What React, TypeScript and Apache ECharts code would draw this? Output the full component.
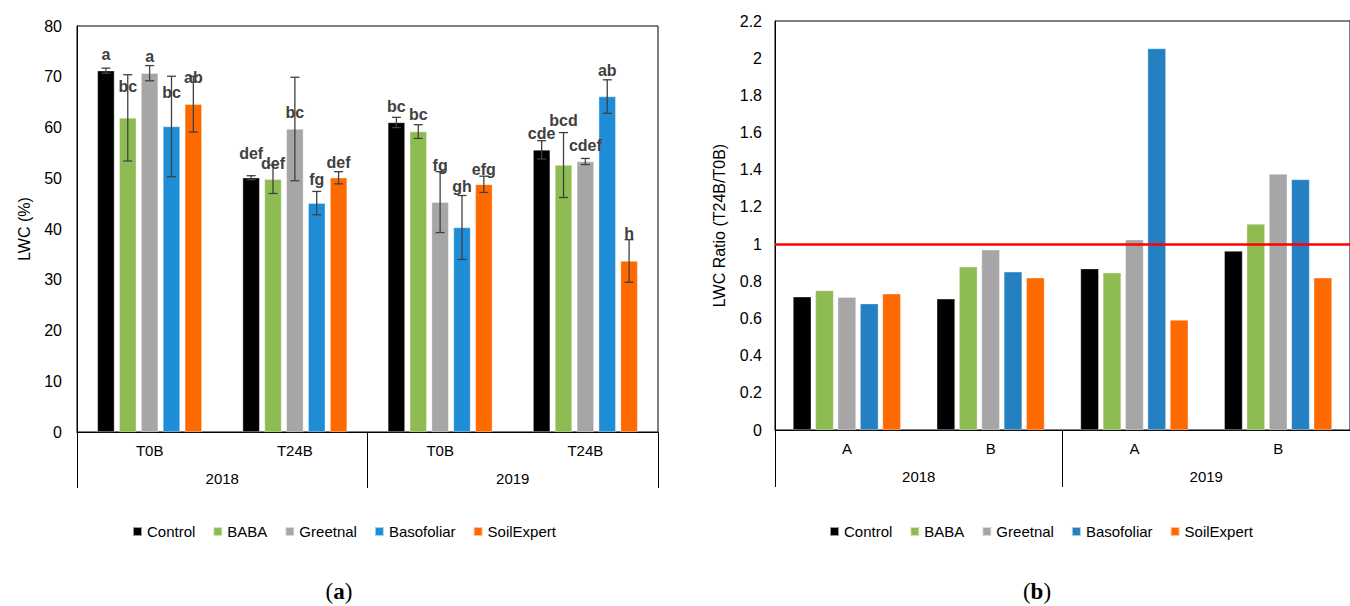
import React, { useEffect, useRef } from "react";
import * as echarts from "echarts";

// ---------- data ----------
const treatments = ["Control", "BABA", "Greetnal", "Basofoliar", "SoilExpert"];

// panel (a): LWC (%)
const samplingA = ["T0B", "T24B", "T0B", "T24B"];
const yearsA = ["2018", "2019"];
const lwcControl = [71.2, 50.1, 61.0, 55.6];
const lwcBABA = [61.9, 49.8, 59.2, 52.6];
const lwcGreetnal = [70.7, 59.7, 45.3, 53.3];
const lwcBasofoliar = [60.2, 45.1, 40.3, 66.1];
const lwcSoilExpert = [64.6, 50.1, 48.8, 33.7];

const sdControl = [0.5, 0.4, 1.0, 1.8];
const sdBABA = [8.5, 2.8, 1.35, 6.4];
const sdGreetnal = [1.5, 10.2, 6.0, 0.6];
const sdBasofoliar = [9.9, 2.3, 6.3, 3.3];
const sdSoilExpert = [5.5, 1.2, 1.6, 4.2];

const lettersControl = ["a", "def", "bc", "cde"];
const lettersBABA = ["bc", "def", "bc", "bcd"];
const lettersGreetnal = ["a", "bc", "fg", "cdef"];
const lettersBasofoliar = ["bc", "fg", "gh", "ab"];
const lettersSoilExpert = ["ab", "def", "efg", "h"];

// height (in LWC units) at which each letter sits
const letterAtControl = [74.3, 54.9, 64.1, 58.9];
const letterAtBABA = [68.0, 52.9, 62.5, 61.3];
const letterAtGreetnal = [74.0, 62.9, 52.6, 56.4];
const letterAtBasofoliar = [66.8, 49.7, 48.3, 71.3];
const letterAtSoilExpert = [69.8, 53.1, 51.8, 39.2];

// panel (b): LWC ratio (T24B/T0B)
const samplingB = ["A", "B", "A", "B"];
const yearsB = ["2018", "2019"];
const ratioControl = [0.717, 0.706, 0.868, 0.963];
const ratioBABA = [0.751, 0.878, 0.846, 1.109];
const ratioGreetnal = [0.715, 0.97, 1.024, 1.377];
const ratioBasofoliar = [0.68, 0.851, 2.052, 1.348];
const ratioSoilExpert = [0.733, 0.819, 0.592, 0.819];
const ratioReference = 1;

// ---------- styling ----------
const colorsA = ["#000000", "#8FBC52", "#A6A6A6", "#1F8DD6", "#FF6A00"];
const colorsB = ["#000000", "#8FBC52", "#A6A6A6", "#2580C2", "#FF6A00"];
const FONT = "'Liberation Sans', Arial, sans-serif";
const SERIF = "'Liberation Serif', serif";

const lwc = [lwcControl, lwcBABA, lwcGreetnal, lwcBasofoliar, lwcSoilExpert];
const sd = [sdControl, sdBABA, sdGreetnal, sdBasofoliar, sdSoilExpert];
const letters = [lettersControl, lettersBABA, lettersGreetnal, lettersBasofoliar, lettersSoilExpert];
const letterAt = [letterAtControl, letterAtBABA, letterAtGreetnal, letterAtBasofoliar, letterAtSoilExpert];
const ratio = [ratioControl, ratioBABA, ratioGreetnal, ratioBasofoliar, ratioSoilExpert];

const CAT_GAP_A = 0.28;
const BAR_GAP_A = 0.276;
const CAT_GAP_B = 0.25;
const BAR_GAP_B = 0.22;

function panelTag(letter: string, x: number) {
  return {
    type: "text",
    x,
    y: 591,
    style: {
      text: "{p|(}{b|" + letter + "}{p|)}",
      align: "center",
      verticalAlign: "middle",
      rich: {
        p: { fontSize: 23, fontFamily: SERIF, fill: "#000" },
        b: { fontSize: 23, fontFamily: SERIF, fontWeight: "bold", fill: "#000" },
      },
    },
  };
}

function buildOption() {
  const n = treatments.length;

  const barsA = treatments.map((name, i) => ({
    type: "bar",
    name,
    xAxisIndex: 0,
    yAxisIndex: 0,
    data: lwc[i],
    itemStyle: { color: colorsA[i], borderColor: "rgba(255,255,255,0.6)", borderWidth: 0.6 },
    barGap: BAR_GAP_A * 100 + "%",
    barCategoryGap: CAT_GAP_A * 100 + "%",
  }));

  const errA = treatments.map((name, i) => ({
    type: "custom",
    name: name + " SD",
    xAxisIndex: 0,
    yAxisIndex: 0,
    z: 10,
    silent: true,
    data: lwc[i].map((v, j) => [j, v, sd[i][j], letterAt[i][j]]),
    renderItem: (params: any, api: any) => {
      const cat = api.value(0);
      const v = api.value(1);
      const e = api.value(2);
      const lv = api.value(3);
      const base = api.coord([cat, v]);
      const band = api.size([1, 0])[0];
      const groupW = band * (1 - CAT_GAP_A);
      const bw = groupW / (n + (n - 1) * BAR_GAP_A);
      const x = base[0] - groupW / 2 + i * bw * (1 + BAR_GAP_A) + bw / 2;
      const yT = api.coord([cat, v + e])[1];
      const yB = api.coord([cat, v - e])[1];
      const yL = api.coord([cat, lv])[1];
      const st = { stroke: "#404040", lineWidth: 1.3 };
      const cap = 4.5;
      return {
        type: "group",
        children: [
          { type: "line", shape: { x1: x, y1: yT, x2: x, y2: yB }, style: st },
          { type: "line", shape: { x1: x - cap, y1: yT, x2: x + cap, y2: yT }, style: st },
          { type: "line", shape: { x1: x - cap, y1: yB, x2: x + cap, y2: yB }, style: st },
          {
            type: "text",
            x,
            y: yL,
            style: {
              text: letters[i][params.dataIndex],
              align: "center",
              verticalAlign: "middle",
              fontSize: 16,
              fontWeight: "bold",
              fontFamily: FONT,
              fill: "#404040",
            },
          },
        ],
      };
    },
  }));

  const barsB = treatments.map((name, i) => ({
    type: "bar",
    name,
    xAxisIndex: 2,
    yAxisIndex: 1,
    data: ratio[i],
    itemStyle: { color: colorsB[i], borderColor: "rgba(255,255,255,0.6)", borderWidth: 0.6 },
    barGap: BAR_GAP_B * 100 + "%",
    barCategoryGap: CAT_GAP_B * 100 + "%",
    ...(i === n - 1
      ? {
          markLine: {
            silent: true,
            symbol: "none",
            z: 20,
            label: { show: false },
            lineStyle: { color: "#FF0000", width: 2.5, type: "solid" },
            data: [{ yAxis: ratioReference }],
          },
        }
      : {}),
  }));

  const legendBase = {
    orient: "horizontal",
    top: 524,
    padding: 0,
    itemWidth: 9,
    itemHeight: 9,
    itemGap: 17,
    icon: "rect",
    selectedMode: false,
    textStyle: { fontSize: 15, color: "#000", fontFamily: FONT },
  };

  const catLabel = { fontSize: 15, color: "#000", fontFamily: FONT };

  return {
    animation: false,
    backgroundColor: "#ffffff",
    textStyle: { fontFamily: FONT },
    grid: [
      { left: 77, top: 26, width: 581, height: 406, show: true, borderColor: "#000", borderWidth: 1 },
      { left: 775, top: 21, width: 584, height: 409, show: true, borderColor: "#000", borderWidth: 1 },
    ],
    legend: [
      {
        ...legendBase,
        left: 132,
        data: treatments.map((name, i) => ({ name, itemStyle: { color: colorsA[i] } })),
      },
      {
        ...legendBase,
        left: 829,
        data: treatments.map((name, i) => ({ name, itemStyle: { color: colorsB[i] } })),
      },
    ],
    xAxis: [
      {
        type: "category",
        gridIndex: 0,
        position: "bottom",
        data: samplingA,
        axisLine: { lineStyle: { color: "#000", width: 1 } },
        axisTick: { show: false },
        axisLabel: { ...catLabel, margin: 11, interval: 0 },
      },
      {
        type: "category",
        gridIndex: 0,
        position: "bottom",
        data: yearsA,
        axisLine: { show: false },
        axisTick: { show: true, length: 56, interval: 0, lineStyle: { color: "#000", width: 1 } },
        axisLabel: { ...catLabel, margin: 39, interval: 0 },
      },
      {
        type: "category",
        gridIndex: 1,
        position: "bottom",
        data: samplingB,
        axisLine: { lineStyle: { color: "#000", width: 1 } },
        axisTick: { show: false },
        axisLabel: { ...catLabel, margin: 11, interval: 0 },
      },
      {
        type: "category",
        gridIndex: 1,
        position: "bottom",
        data: yearsB,
        axisLine: { show: false },
        axisTick: { show: true, length: 57, interval: 0, lineStyle: { color: "#000", width: 1 } },
        axisLabel: { ...catLabel, margin: 39, interval: 0 },
      },
    ],
    yAxis: [
      {
        type: "value",
        gridIndex: 0,
        min: 0,
        max: 80,
        interval: 10,
        axisLine: { show: true, lineStyle: { color: "#000", width: 1 } },
        axisTick: { show: false },
        splitLine: { show: false },
        axisLabel: { fontSize: 16, color: "#000", margin: 15, fontFamily: FONT },
        name: "LWC (%)",
        nameLocation: "middle",
        nameGap: 45,
        nameTextStyle: { fontSize: 16, color: "#000", fontFamily: FONT },
      },
      {
        type: "value",
        gridIndex: 1,
        min: 0,
        max: 2.2,
        interval: 0.2,
        axisLine: { show: true, lineStyle: { color: "#000", width: 1 } },
        axisTick: { show: false },
        splitLine: { show: false },
        axisLabel: {
          fontSize: 16,
          color: "#000",
          margin: 13,
          fontFamily: FONT,
          formatter: (v: number) => String(Math.round(v * 10) / 10),
        },
        name: "LWC Ratio (T24B/T0B)",
        nameLocation: "middle",
        nameGap: 48,
        nameTextStyle: { fontSize: 16, color: "#000", fontFamily: FONT },
      },
    ],
    graphic: [panelTag("a", 339), panelTag("b", 1037)],
    series: [...barsA, ...errA, ...barsB],
  };
}

export default function App() {
  const ref = useRef<HTMLDivElement>(null);
  useEffect(() => {
    if (!ref.current) return;
    const chart = echarts.init(ref.current, null, { renderer: "svg" });
    chart.setOption(buildOption() as any);
    return () => chart.dispose();
  }, []);
  return (
    <div
      ref={ref}
      style={{ position: "absolute", left: 0, top: 0, width: 1350, height: 606, background: "#fff" }}
    />
  );
}
